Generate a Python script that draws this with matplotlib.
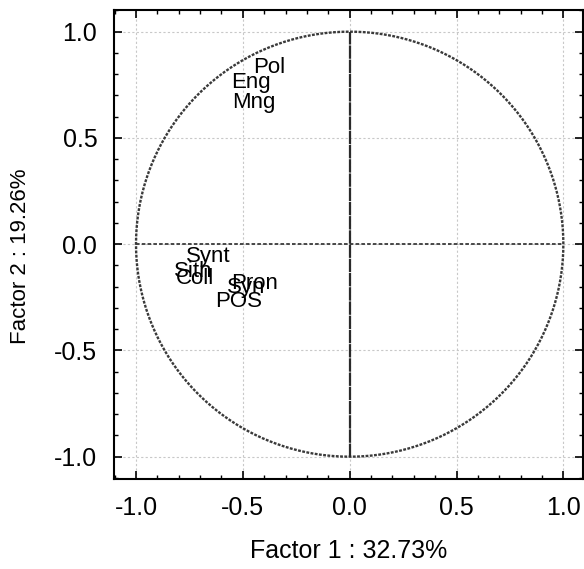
import numpy as np
import matplotlib
matplotlib.use("Agg")
import matplotlib.pyplot as plt
from matplotlib.ticker import MultipleLocator

plt.rcParams['font.family'] = ['Liberation Sans', 'DejaVu Sans']

# Variable loadings on the first two factors (label anchor = left/baseline)
variables = ["Pol", "Eng", "Mng", "Synt", "Sith", "Coll", "Syn", "Pron", "POS"]
factor1 = [-0.45, -0.557, -0.548, -0.768, -0.822, -0.815, -0.576, -0.553, -0.628]
factor2 = [0.807, 0.737, 0.643, -0.083, -0.153, -0.188, -0.228, -0.211, -0.294]

x_label = "Factor 1 : 32.73%"
y_label = "Factor 2 : 19.26%"
tick_values = [-1.0, -0.5, 0.0, 0.5, 1.0]
tick_labels = ["-1.0", "-0.5", "0.0", "0.5", "1.0"]

W, H, DPI = 584, 569, 100
fig = plt.figure(figsize=(W / DPI, H / DPI), dpi=DPI)
ax = fig.add_axes([114 / W, 1 - 479 / H, (583 - 114) / W, (479 - 10) / H])

ax.set_xlim(-1.103, 1.092)
ax.set_ylim(-1.105, 1.102)

# unit circle and axes through the origin
t = np.linspace(0, 2 * np.pi, 721)
ax.plot(np.cos(t), np.sin(t), color="#3a3a3a", lw=1.7, ls=(0, (1.2, 0.6)), zorder=3)
ax.plot([-1, 1], [0, 0], color="#3a3a3a", lw=1.3, ls=(0, (2.0, 1.2)), zorder=3)
ax.plot([0, 0], [-1, 1], color="#2a2a2a", lw=1.6, ls=(0, (6.0, 0.4)), zorder=3)

for name, fx, fy in zip(variables, factor1, factor2):
    ax.text(fx, fy, name, fontsize=16, ha="left", va="baseline", color="black", zorder=4)

ax.set_xticks(tick_values)
ax.set_xticklabels(tick_labels)
ax.set_yticks(tick_values)
ax.set_yticklabels(tick_labels)
ax.xaxis.set_minor_locator(MultipleLocator(0.1))
ax.yaxis.set_minor_locator(MultipleLocator(0.1))
ax.tick_params(which="both", direction="in", top=True, right=True, color="black")
ax.tick_params(which="major", length=5.5, width=1.2, labelsize=18, pad=12)
ax.tick_params(which="minor", length=2.8, width=1.0)

ax.grid(True, which="major", color="#c8c8c8", ls=(0, (2, 2)), lw=0.8, zorder=0)
ax.set_axisbelow(True)

for s in ax.spines.values():
    s.set_linewidth(1.5)

ax.set_xlabel(x_label, fontsize=18, labelpad=14)
ax.set_ylabel(y_label, fontsize=16)
ax.yaxis.set_label_coords(-0.178, 0.475)

fig.savefig("out.png", dpi=DPI)
